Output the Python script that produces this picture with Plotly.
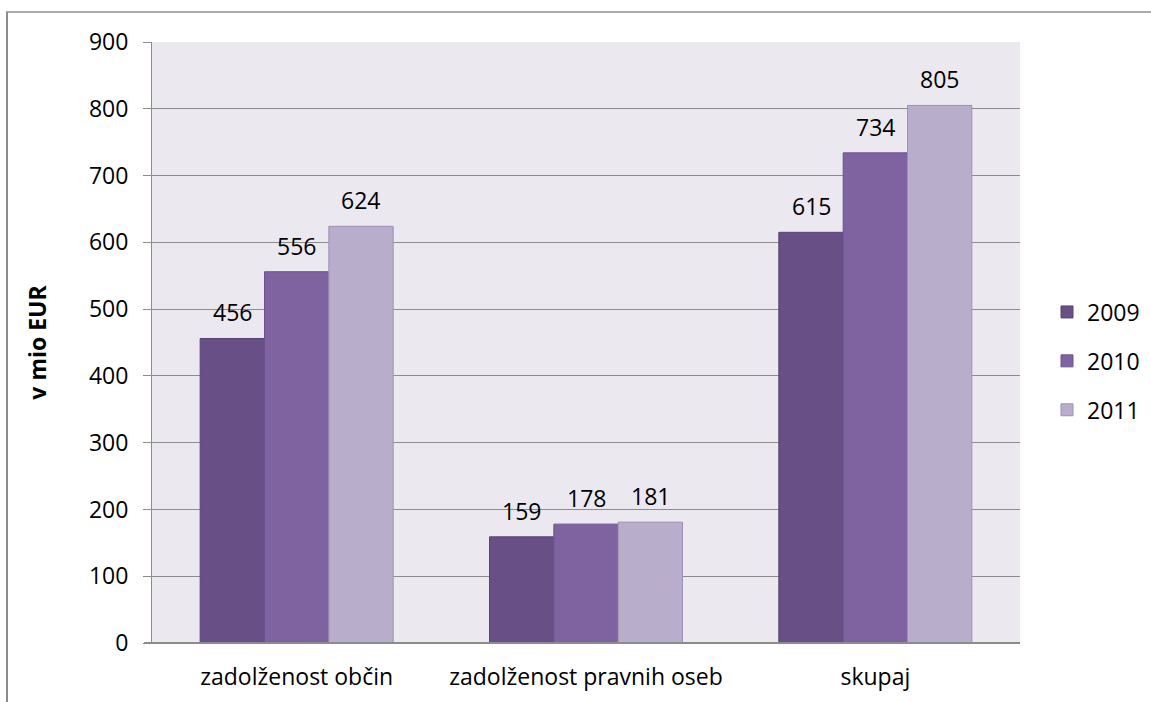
import plotly.graph_objects as go

categories = ["zadolženost občin", "zadolženost pravnih oseb", "skupaj"]
years = ["2009", "2010", "2011"]
values_2009 = [456, 159, 615]
values_2010 = [556, 178, 734]
values_2011 = [624, 181, 805]
y_ticks = [0, 100, 200, 300, 400, 500, 600, 700, 800, 900]

series = [values_2009, values_2010, values_2011]
colors = ["#684F86", "#7F63A1", "#B8AECB"]
edges = ["#5A4275", "#6D5290", "#9E90B5"]

FONT = "'Open Sans', sans-serif"
FS = 23

W, H = 1151, 702
L, R, T, B = 152, 131, 42, 59
pw = W - L - R
ph = H - T - B

def px_x(x):
    return (x - L) / pw

def px_y(y):
    return (H - B - y) / ph

BARGAP = 0.333
bar_px = pw / len(categories) * (1 - BARGAP) / len(years)

fig = go.Figure()
annotations = []
for i, (yr, vals) in enumerate(zip(years, series)):
    fig.add_trace(go.Bar(
        x=categories, y=vals, name=yr,
        marker=dict(color=colors[i], line=dict(color=edges[i], width=1)),
        legendgroup=yr,
    ))
    for c, v in zip(categories, vals):
        annotations.append(dict(
            x=c, y=v, xref="x", yref="y", text=str(v), showarrow=False,
            xanchor="center", yanchor="bottom", yshift=8,
            xshift=(i - 1) * bar_px,
            font=dict(size=FS, family=FONT, color="#000000"),
        ))

fig.update_layout(
    width=W, height=H,
    margin=dict(l=L, r=R, t=T, b=B, autoexpand=False),
    paper_bgcolor="#FFFFFF",
    plot_bgcolor="#EBE9EF",
    barmode="group",
    bargap=BARGAP,
    bargroupgap=0,
    font=dict(family=FONT, size=FS, color="#000000"),
    showlegend=True,
    legend=dict(
        x=px_x(1047), y=px_y(361), xanchor="left", yanchor="middle",
        font=dict(size=FS, family=FONT), tracegroupgap=16,
        bgcolor="rgba(0,0,0,0)",
    ),
    xaxis=dict(
        showgrid=False, showline=False, ticks="",
        tickfont=dict(size=FS, family=FONT), ticklabelstandoff=18,
        automargin=False,
    ),
    yaxis=dict(
        range=[0, 900], tickvals=y_ticks,
        showgrid=True, gridcolor="#8C8C8C", gridwidth=1,
        showline=True, linecolor="#8C8C8C", linewidth=1,
        ticks="outside", ticklen=8, tickcolor="#8C8C8C",
        tickfont=dict(size=FS, family=FONT), ticklabelstandoff=10,
        zeroline=False, automargin=False,
        title=dict(text="<b>v mio EUR</b>", font=dict(size=FS, family=FONT), standoff=35),
    ),
    annotations=annotations,
    shapes=[
        dict(type="line", xref="paper", yref="paper", x0=px_x(144), x1=1, y0=0, y1=0,
             line=dict(color="#8C8C8C", width=2)),
        dict(type="line", xref="paper", yref="paper", x0=px_x(7), x1=px_x(7), y0=px_y(12), y1=px_y(702),
             line=dict(color="#8C8C8C", width=2)),
        dict(type="line", xref="paper", yref="paper", x0=px_x(6), x1=px_x(1151), y0=px_y(12), y1=px_y(12),
             line=dict(color="#8C8C8C", width=1.5)),
    ],
)

fig.write_html("out.html", config={"displayModeBar": False})
